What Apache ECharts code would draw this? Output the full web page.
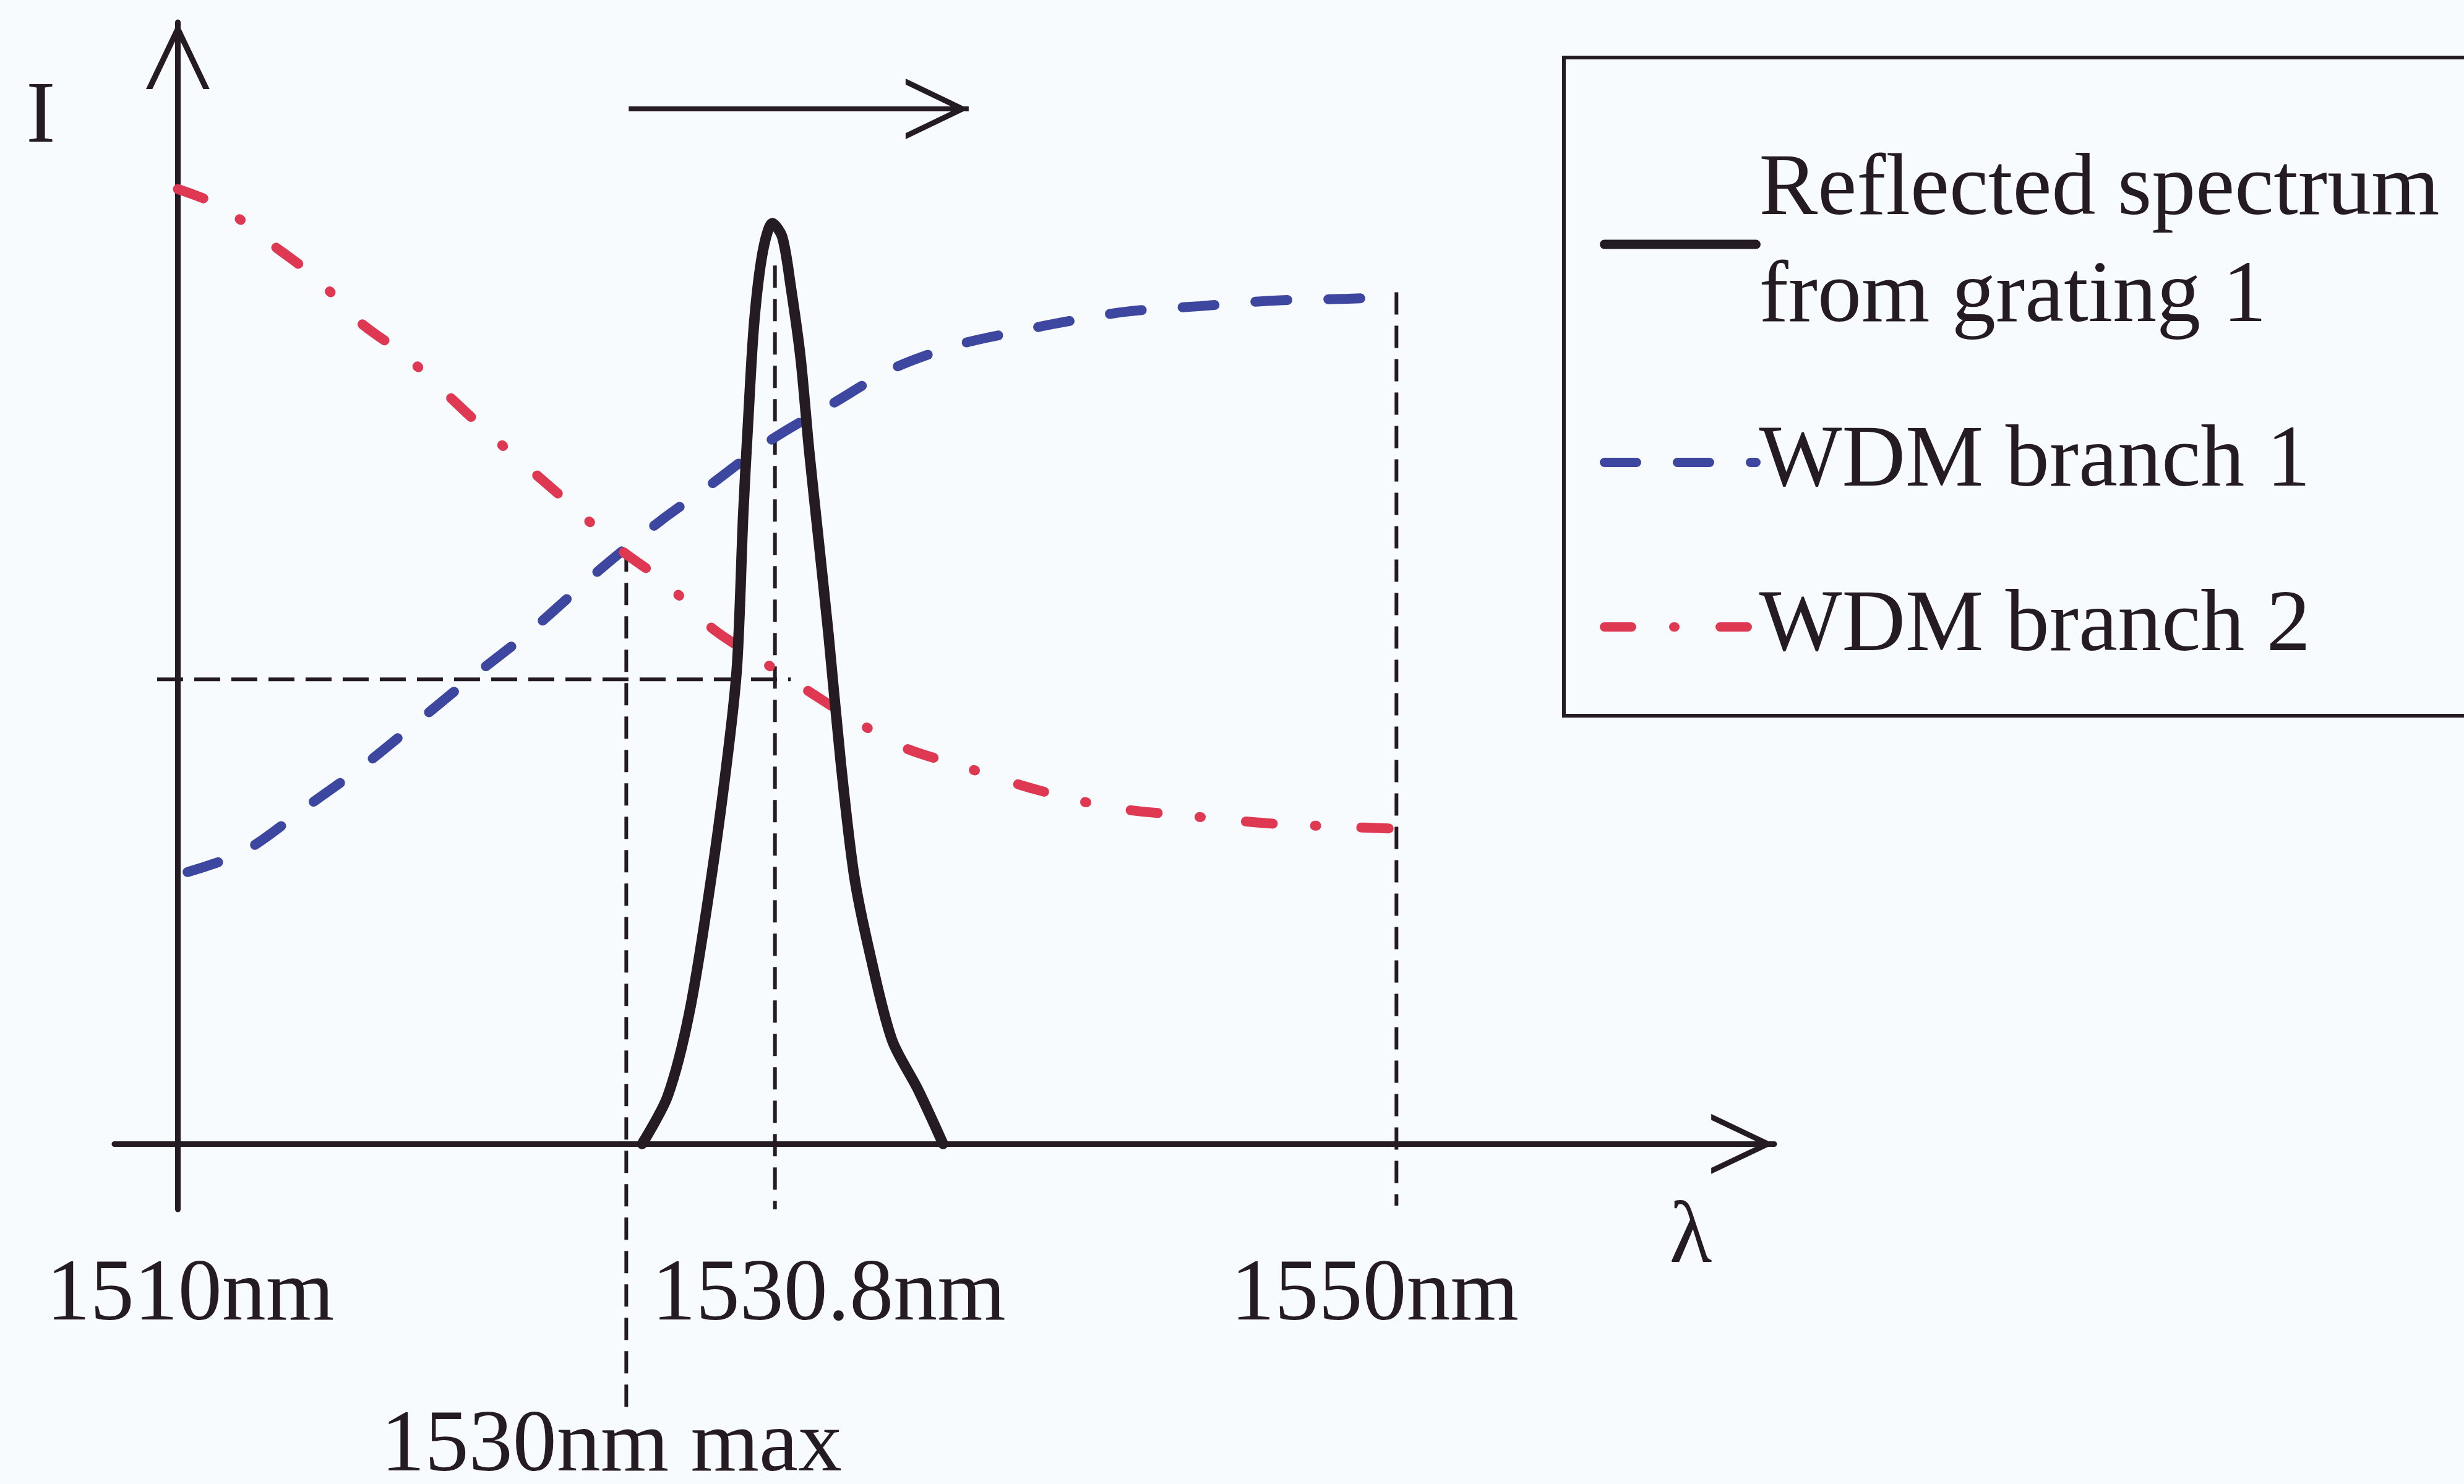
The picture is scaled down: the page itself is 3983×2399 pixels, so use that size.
<!DOCTYPE html>
<html>
<head>
<meta charset="utf-8">
<title>Reflected spectrum and WDM branches</title>
<script src="https://cdn.jsdelivr.net/npm/echarts@6/dist/echarts.min.js"></script>
<style>
  html, body { margin: 0; padding: 0; background: #f8fbfd; }
  #chart { width: 3983px; height: 2399px; }
</style>
</head>
<body>
<div id="chart"></div>
<script>
// schematic units: x = 0 at 1510nm, 100 at 1550nm (drawing is not linear in nm)
// y = relative intensity, grating peak ~ 100
const spectrum = [
  [38.1, 0], [40.2, 5.2], [42.0, 14.4], [43.8, 29.1], [45.2, 43.0], [45.9, 52.1],
  [46.4, 68.4], [46.8, 78.4], [47.3, 89.2], [48.0, 96.8], [48.8, 99.9], [49.6, 98.4],
  [50.3, 93.0], [51.1, 85.3], [51.8, 75.3], [52.6, 65.3], [53.4, 55.2], [54.4, 41.4],
  [55.5, 29.1], [56.8, 20.6], [58.6, 11.3], [60.7, 6.0], [62.8, 0]
];
const branch1 = [
  [0.8, 29.5], [5.4, 31.7], [10.8, 36.8], [15.3, 41.1], [20.4, 46.6], [24.0, 50.5],
  [28.9, 55.6], [34.8, 62.5], [39.6, 67.6], [43.6, 71.4], [48.7, 76.4], [53.7, 80.3],
  [58.8, 84.2], [64.3, 86.8], [68.7, 88.1], [72.0, 89.0], [77.8, 90.3], [83.9, 90.9],
  [89.9, 91.5], [96.0, 91.7], [100, 91.9]
];
const branch2 = [
  [0, 103.6], [3.6, 101.7], [7.2, 98.1], [11.3, 94.0], [15.0, 89.1], [18.6, 85.6],
  [21.7, 81.8], [25.6, 77.0], [28.9, 73.2], [32.8, 68.7], [36.3, 64.5], [40.1, 60.8],
  [43.8, 56.0], [47.7, 52.6], [50.6, 50.1], [55.5, 46.0], [59.6, 43.0], [64.3, 41.0],
  [70.3, 38.5], [76.6, 36.5], [82.9, 35.6], [89.3, 34.8], [95.8, 34.4], [100, 34.2]
];
const guide1530 = [[36.8, 64.5], [36.8, -29.0]];
const guidePeak = [[49.0, 95.3], [49.0, -7.1]];
const guide1550 = [[100, 92.4], [100, -6.7]];
const guideLevel = [[-1.7, 50.4], [50.3, 50.4]];
const shiftArrow = [[37.0, 112.3], [64.9, 112.3]];

const tickValues = [0, 36.8, 49.0, 100];
const tickLabels = ['1510nm', '1530nm max', '1530.8nm', '1550nm'];
const seriesNames = ['Reflected spectrum\nfrom grating 1', 'WDM branch 1', 'WDM branch 2'];

// label nudges (layout only): [top, right, bottom, left] padding
const labelPad = [[0, 0, 0, 40], [0, 48, 0, 0], [0, 0, 0, 174], [0, 70, 0, 0]];
const secondRow = [false, true, false, false];

const ink = '#241c22';
const blue = '#3d47a0';
const red = '#df3852';
const font = 'Liberation Serif';
// open chevron pointing up; lone moveTo puts the tip at the symbol centre
const chevron = 'path://M50,0 M50,105 L100,210 L90,210 L50,126 L10,210 L0,210 Z';

const rich = {gap: {lineHeight: 244, fontSize: 20}};
tickLabels.forEach(function (t, i) {
  rich['t' + i] = {
    fontFamily: font, fontSize: 142, lineHeight: 140, color: ink, padding: labelPad[i]
  };
});

const guideStyle = {color: ink, width: 6, type: [36, 18]};
function guide(data, style) {
  return {
    type: 'line', data: data, symbol: 'none', clip: false, silent: true,
    lineStyle: style || guideStyle, z: 1
  };
}

const chart = echarts.init(document.getElementById('chart'));
chart.setOption({
  animation: false,
  backgroundColor: '#f8fbfd',
  grid: {left: 185, right: 1115, top: 36, bottom: 444, containLabel: false, outerBoundsMode: 'none'},
  legend: {
    data: seriesNames,
    orient: 'vertical',
    left: 2528,
    top: 93,
    padding: [129, 300, 57, 58],
    itemGap: 93,
    itemWidth: 245,
    itemHeight: 30,
    selectedMode: false,
    borderColor: ink,
    borderWidth: 6,
    itemStyle: {opacity: 0},
    lineStyle: {width: 15},
    textStyle: {fontFamily: font, fontSize: 142, lineHeight: 173, color: ink}
  },
  xAxis: {
    type: 'value',
    min: -5.2,
    max: 131,
    name: 'λ',
    nameLocation: 'end',
    nameGap: -135,
    nameMoveOverlap: false,
    nameTextStyle: {
      fontFamily: font, fontSize: 142, lineHeight: 306, color: ink,
      align: 'center', verticalAlign: 'top'
    },
    axisLine: {
      onZero: true,
      symbol: ['none', chevron],
      symbolSize: [97, 204],
      lineStyle: {color: ink, width: 9}
    },
    axisTick: {show: false},
    splitLine: {show: false},
    axisLabel: {
      customValues: tickValues,
      margin: 71,
      verticalAlign: 'top',
      formatter: function (v) {
        const i = tickValues.indexOf(v);
        if (i < 0) return '';
        const txt = '{t' + i + '|' + tickLabels[i] + '}';
        return secondRow[i] ? '{gap| }\n' + txt : txt;
      },
      rich: rich
    }
  },
  yAxis: {
    type: 'value',
    min: -7.1,
    max: 121.7,
    name: 'I',
    nameLocation: 'end',
    nameGap: -156,
    nameMoveOverlap: false,
    nameTextStyle: {
      fontFamily: font, fontSize: 142, lineHeight: 140, color: ink,
      align: 'right', verticalAlign: 'middle', padding: [0, 198, 0, 0]
    },
    axisLine: {
      onZero: true,
      symbol: ['none', chevron],
      symbolSize: [105, 216],
      lineStyle: {color: ink, width: 9}
    },
    axisTick: {show: false},
    axisLabel: {show: false},
    splitLine: {show: false}
  },
  series: [
    {
      name: seriesNames[0],
      type: 'line',
      data: spectrum,
      symbol: 'none',
      smooth: 0.3,
      z: 4,
      lineStyle: {color: ink, width: 17, cap: 'round', join: 'round'},
      itemStyle: {color: ink},
      markLine: {
        silent: true,
        symbol: ['none', chevron],
        symbolSize: [98, 204],
        label: {show: false},
        lineStyle: {color: ink, width: 8, type: 'solid'},
        data: [[{coord: shiftArrow[0]}, {coord: shiftArrow[1]}]]
      }
    },
    {
      name: seriesNames[1],
      type: 'line',
      data: branch1,
      symbol: 'none',
      smooth: 0.3,
      z: 3,
      lineStyle: {color: blue, width: 16, type: [52, 66], cap: 'round'},
      itemStyle: {color: blue}
    },
    {
      name: seriesNames[2],
      type: 'line',
      data: branch2,
      symbol: 'none',
      smooth: 0.3,
      z: 3,
      lineStyle: {color: red, width: 16, type: [44, 68, 2, 73], cap: 'round'},
      itemStyle: {color: red}
    },
    guide(guide1530),
    guide(guidePeak),
    guide(guide1550),
    guide(guideLevel, {color: ink, width: 6, type: [42, 18]})
  ]
});
</script>
</body>
</html>
